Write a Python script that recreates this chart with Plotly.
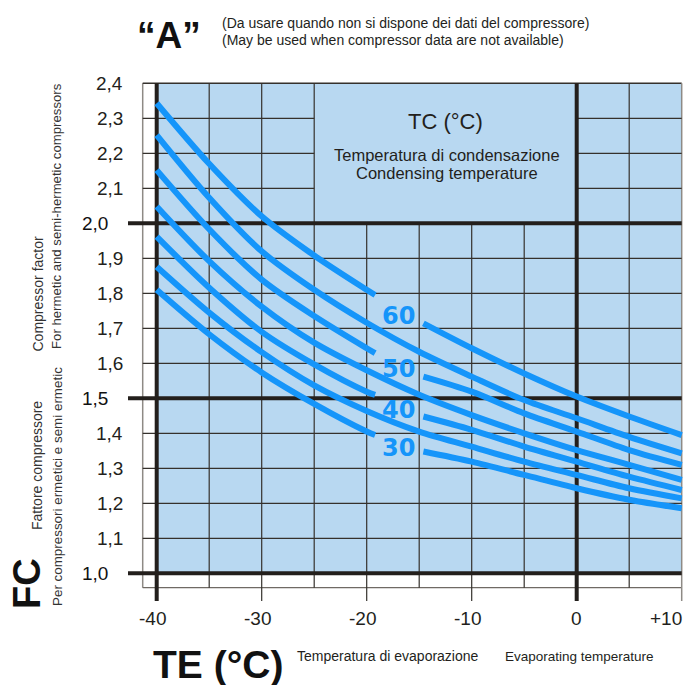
import plotly.graph_objects as go

# ---------------- data ----------------
TC_LEVELS = [60, 55, 50, 45, 40, 35, 30]
TE_60 = [-40, -35, -30, -25, -20, -19.2, None, -14.6, -10, -5, 0, 5, 10]
FC_60 = [2.343, 2.170, 2.020, 1.908, 1.810, 1.795, None, 1.714, 1.643, 1.571, 1.505, 1.448, 1.395]
TE_55 = [-40, -35, -30, -25, -20, -15, -10, -5, 0, 5, 10]
FC_55 = [2.252, 2.073, 1.920, 1.810, 1.716, 1.633, 1.562, 1.495, 1.443, 1.390, 1.343]
TE_50 = [-40, -35, -30, -25, -20, -19.2, None, -14.6, -10, -5, 0, 5, 10]
FC_50 = [2.152, 1.983, 1.839, 1.735, 1.643, 1.629, None, 1.562, 1.519, 1.457, 1.405, 1.352, 1.310]
TE_45 = [-40, -35, -30, -25, -20, -15, -10, -5, 0, 5, 10]
FC_45 = [2.048, 1.892, 1.762, 1.659, 1.580, 1.510, 1.452, 1.400, 1.352, 1.310, 1.267]
TE_40 = [-40, -35, -30, -25, -20, -19.2, None, -14.6, -10, -5, 0, 5, 10]
FC_40 = [1.962, 1.816, 1.690, 1.597, 1.519, 1.510, None, 1.448, 1.410, 1.362, 1.319, 1.276, 1.238]
TE_35 = [-40, -35, -30, -25, -20, -15, -10, -5, 0, 5, 10]
FC_35 = [1.876, 1.745, 1.632, 1.537, 1.464, 1.405, 1.362, 1.319, 1.281, 1.243, 1.214]
TE_30 = [-40, -35, -30, -25, -20, -19.2, None, -14.6, -10, -5, 0, 5, 10]
FC_30 = [1.810, 1.683, 1.574, 1.484, 1.405, 1.395, None, 1.348, 1.319, 1.281, 1.243, 1.210, 1.186]

CURVE_LABELS = ["60", "50", "40", "30"]
CURVE_LABEL_TE = [-17.0, -17.0, -17.0, -17.0]
CURVE_LABEL_FC = [1.736, 1.585, 1.467, 1.359]

X_TICKS = [-40, -30, -20, -10, 0, 10]
X_TICK_TEXT = ["-40", "-30", "-20", "-10", "0", "+10"]
Y_TICKS = [1.0, 1.1, 1.2, 1.3, 1.4, 1.5, 1.6, 1.7, 1.8, 1.9, 2.0, 2.1, 2.2, 2.3, 2.4]
Y_TICK_TEXT = ["1,0", "1,1", "1,2", "1,3", "1,4", "1,5", "1,6", "1,7", "1,8", "1,9",
               "2,0", "2,1", "2,2", "2,3", "2,4"]
Y_MAJOR = [1.0, 1.5, 2.0]

# ---------------- styling ----------------
W, H = 692, 685
BLUE_BG = "#B8D8F1"
CURVE = "#1595FA"
INK = "#231F1C"
GRID = "#35312c"
GRAYF = "#8e8a85"
NARROW = "Liberation Sans Narrow, Arial Narrow, Liberation Sans, Arial, sans-serif"
SANS = "Liberation Sans, Arial, Helvetica, sans-serif"

# axis ranges so that the whole figure is the plotting area
X_RANGE = [-54.924, 10.981]
Y_RANGE = [0.6809, 2.638]
X_LEFT_FRAME = -41.333
X_TICK_OUT = -42.733
Y_BOTTOM_FRAME = 0.9589
Y_TICK_OUT = 0.921

fig = go.Figure()

shapes = []
def seg(x0, y0, x1, y1, color, width):
    shapes.append(dict(type="line", xref="x", yref="y", x0=x0, y0=y0, x1=x1, y1=y1,
                       line=dict(color=color, width=width), layer="below"))

# blue field
shapes.append(dict(type="rect", xref="x", yref="y", x0=-40, x1=10, y0=1.0, y1=2.4,
                   fillcolor=BLUE_BG, line=dict(width=0), layer="below"))

# frame
seg(X_LEFT_FRAME, Y_BOTTOM_FRAME, X_LEFT_FRAME, 2.4, GRAYF, 1.5)
seg(X_LEFT_FRAME, Y_BOTTOM_FRAME, 10, Y_BOTTOM_FRAME, "#6f6a64", 1.3)
seg(X_LEFT_FRAME, 2.4, 10, 2.4, GRID, 1.5)
seg(10, Y_TICK_OUT, 10, 2.4, GRAYF, 1.5)

# vertical grid lines every 5
for xv in [-35, -30, -25, -20, -15, -10, -5, 5]:
    ybot = Y_TICK_OUT if xv in X_TICKS else Y_BOTTOM_FRAME
    ytop = 2.0 if -25 < xv < 0 else 2.4
    seg(xv, ybot, xv, ytop, GRID, 1.2)

# horizontal grid lines every 0.1
for yv in Y_TICKS[1:-1]:
    if yv in Y_MAJOR:
        continue
    if yv > 2.0:
        seg(X_LEFT_FRAME, yv, -25, yv, GRID, 1.2)
        seg(0, yv, 10, yv, GRID, 1.2)
    else:
        seg(X_LEFT_FRAME, yv, 10, yv, GRID, 1.2)

# heavy lines
for yv in Y_MAJOR:
    seg(X_TICK_OUT, yv, 10, yv, INK, 4)
for xv in [-40, 0]:
    seg(xv, Y_TICK_OUT, xv, 2.4, INK, 4)

# curves
series = [(TE_60, FC_60), (TE_55, FC_55), (TE_50, FC_50), (TE_45, FC_45),
          (TE_40, FC_40), (TE_35, FC_35), (TE_30, FC_30)]
for tc, (te, fc) in zip(TC_LEVELS, series):
    fig.add_trace(go.Scatter(x=te, y=fc, mode="lines", name=f"TC {tc}",
                             line=dict(color=CURVE, width=6, shape="spline", smoothing=0.9),
                             connectgaps=False, hoverinfo="x+y+name"))

ann = []
def px(x):
    return x / W
def py(y):
    return 1 - y / H
def text(x, y, s, size, family=SANS, color=INK, xanchor="center", angle=0, bold=False):
    if bold:
        s = f"<b>{s}</b>"
    ann.append(dict(xref="paper", yref="paper", x=px(x), y=py(y), text=s, showarrow=False,
                    xanchor=xanchor, yanchor="middle", textangle=angle,
                    font=dict(size=size, family=family, color=color)))

# curve labels
for lab, te, fc in zip(CURVE_LABELS, CURVE_LABEL_TE, CURVE_LABEL_FC):
    ann.append(dict(xref="x", yref="y", x=te, y=fc, text=f"<b>{lab}</b>", showarrow=False,
                    xanchor="center", yanchor="middle",
                    font=dict(size=24, family="DejaVu Sans, sans-serif", color=CURVE)))

# tick labels
for yv, t in zip(Y_TICKS, Y_TICK_TEXT):
    major = yv in Y_MAJOR
    ann.append(dict(xref="x", yref="y", x=-44.45 if major else -43.02, y=yv, text=t,
                    showarrow=False, xanchor="right", yanchor="middle",
                    font=dict(size=19, family=SANS, color="#111" if major else INK)))
for xv, t in zip(X_TICKS, X_TICK_TEXT):
    last = t.startswith("+")
    ann.append(dict(xref="x", yref="y",
                    x=xv + 0.2 if last else (xv - 0.4 if t.startswith("-") else xv),
                    y=0.8709, text=t, showarrow=False,
                    xanchor="right" if last else "center", yanchor="middle",
                    font=dict(size=19, family=SANS, color=INK)))

# legend box text
text(445.5, 122, "TC (°C)", 22)
text(447, 155, "Temperatura di condensazione", 16.5)
text(447, 173, "Condensing temperature", 16.5)

# header
text(169, 35, "“A”", 37, bold=True, color="#111")
text(220, 23, "(Da usare quando non si dispone dei dati del compressore)", 14, NARROW, xanchor="left")
text(220, 40, "(May be used when compressor data are not available)", 14, NARROW, xanchor="left")

# axis titles
text(217.5, 664, "TE (°C)", 39, bold=True, color="#111")
text(387.5, 656, "Temperatura di evaporazione", 14, NARROW)
text(579, 656, "Evaporating temperature", 13.5, NARROW)
text(27, 584, "FC", 38, bold=True, color="#111", angle=-90)
text(37.5, 294, "Compressor factor", 14, NARROW, color="#333", angle=-90)
text(56.5, 216.5, "For hermetic and semi-hermetic compressors", 13.2, NARROW, color="#333", angle=-90)
text(37, 466, "Fattore compressore", 14, NARROW, color="#333", angle=-90)
text(57, 487, "Per compressori ermetici e semi ermetic", 13.4, NARROW, color="#333", angle=-90)

fig.update_layout(
    width=W, height=H, autosize=False,
    margin=dict(l=0, r=0, t=0, b=0),
    paper_bgcolor="white", plot_bgcolor="white",
    showlegend=False,
    xaxis=dict(range=X_RANGE, visible=False, fixedrange=True),
    yaxis=dict(range=Y_RANGE, visible=False, fixedrange=True),
    shapes=shapes, annotations=ann,
)

fig.write_html("out.html", config={"displayModeBar": False},
               post_script="document.body.style.margin='0';document.body.style.overflow='hidden';")
